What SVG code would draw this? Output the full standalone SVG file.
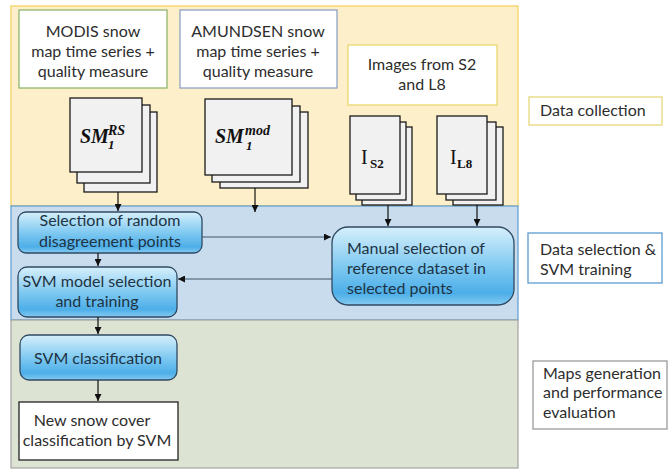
<svg xmlns="http://www.w3.org/2000/svg" width="668" height="470" viewBox="0 0 668 470">
<defs>
  <linearGradient id="blueGrad" x1="0" y1="0" x2="0" y2="1">
    <stop offset="0" stop-color="#d6effb"/>
    <stop offset="0.55" stop-color="#78c6f0"/>
    <stop offset="0.85" stop-color="#4daee8"/>
    <stop offset="1" stop-color="#84cbf1"/>
  </linearGradient>
  <marker id="arr" viewBox="0 0 10 10" refX="10" refY="5" markerWidth="7" markerHeight="7" orient="auto" markerUnits="userSpaceOnUse">
    <path d="M0,0 L10,5 L0,10 z" fill="#111"/>
  </marker>
</defs>
<style>
  .txt { font-family: Lato, "Liberation Sans", sans-serif; font-size: 16px; fill: #2d2d2d; }
  .ctr { text-anchor: middle; }
  .lbl { font-family: Lato, "Liberation Sans", sans-serif; font-size: 16px; fill: #2d2d2d; }
  .flow { fill: url(#blueGrad); stroke: #2f4a63; stroke-width: 1.3; }
  .flowtxt { font-family: Lato, "Liberation Sans", sans-serif; font-size: 16px; fill: #1e3344; }
  .sheet { fill: #f1f1f1; stroke: #1a1a1a; stroke-width: 1.3; }
  .math { font-family: "Liberation Serif", "DejaVu Serif", serif; font-weight: bold; font-style: italic; fill: #111; }
  .roman { font-family: "Liberation Serif", "DejaVu Serif", serif; fill: #111; }
  .conn { stroke: #111; stroke-width: 1.2; fill: none; marker-end: url(#arr); }
  .connl { stroke: #3f5366; stroke-width: 1.2; fill: none; marker-end: url(#arr); }
</style>

<!-- panels -->
<g id="panel-collection">
  <rect x="11" y="6" width="507" height="200" fill="#fcefc9" stroke="#f3d774" stroke-width="1.5"/>
</g>
<g id="panel-selection">
  <rect x="11" y="206" width="507" height="114" fill="#c8dcee" stroke="#5d9bd0" stroke-width="1.2"/>
</g>
<g id="panel-maps">
  <rect x="11" y="320" width="507" height="148" fill="#dde3d3" stroke="#a3a3a3" stroke-width="1.2"/>
</g>

<!-- source boxes -->
<g id="modis">
  <rect x="19" y="10" width="148" height="78" fill="#ffffff" stroke="#93b56e" stroke-width="1.3"/>
  <text class="txt ctr" x="93" y="37">MODIS snow</text>
  <text class="txt ctr" x="93" y="57">map time series +</text>
  <text class="txt ctr" x="93" y="77">quality measure</text>
</g>
<g id="amundsen">
  <rect x="180" y="10" width="157" height="78" fill="#ffffff" stroke="#8fa3c6" stroke-width="1.3"/>
  <text class="txt ctr" x="258" y="37">AMUNDSEN snow</text>
  <text class="txt ctr" x="258" y="57">map time series +</text>
  <text class="txt ctr" x="258" y="77">quality measure</text>
</g>
<g id="images">
  <rect x="348" y="45" width="149" height="60" fill="#ffffff" stroke="#ead86e" stroke-width="1.3"/>
  <text class="txt ctr" x="422" y="70">Images from S2</text>
  <text class="txt ctr" x="422" y="90">and L8</text>
</g>

<!-- stacks -->
<g id="sm-rs">
  <rect class="sheet" x="84" y="112" width="73" height="80"/>
  <rect class="sheet" x="77" y="105" width="73" height="78"/>
  <rect class="sheet" x="70" y="98" width="72" height="74"/>
  <text class="math" x="80" y="143" font-size="20">SM</text>
  <text class="math" x="108" y="135" font-size="14">RS</text>
  <text class="math" x="108" y="149" font-size="13">1</text>
</g>
<g id="sm-mod">
  <rect class="sheet" x="220" y="112" width="88" height="76"/>
  <rect class="sheet" x="212" y="106" width="88" height="76"/>
  <rect class="sheet" x="205" y="99" width="87" height="76"/>
  <text class="math" x="215" y="143" font-size="20">SM</text>
  <text class="math" x="245" y="135" font-size="14">mod</text>
  <text class="math" x="246" y="150" font-size="13">1</text>
</g>
<g id="i-s2">
  <rect class="sheet" x="362" y="127" width="50" height="78"/>
  <rect class="sheet" x="356" y="122" width="50" height="78"/>
  <rect class="sheet" x="350" y="116" width="50" height="78"/>
  <text class="roman" x="361" y="164" font-size="20">I</text>
  <text class="roman" x="370" y="168" font-size="13" font-weight="bold">S2</text>
</g>
<g id="i-l8">
  <rect class="sheet" x="453" y="127" width="50" height="78"/>
  <rect class="sheet" x="446" y="122" width="50" height="78"/>
  <rect class="sheet" x="437" y="116" width="50" height="78"/>
  <text class="roman" x="450" y="164" font-size="20">I</text>
  <text class="roman" x="457" y="168" font-size="13" font-weight="bold">L8</text>
</g>

<!-- flow boxes -->
<g id="select-random">
  <rect class="flow" x="18" y="212" width="184" height="41" rx="8"/>
  <text class="flowtxt ctr" x="110" y="226">Selection of random</text>
  <text class="flowtxt ctr" x="110" y="247">disagreement points</text>
</g>
<g id="svm-model">
  <rect class="flow" x="18" y="267" width="159" height="50" rx="9"/>
  <text class="flowtxt ctr" x="97" y="287">SVM model selection</text>
  <text class="flowtxt ctr" x="97" y="307">and training</text>
</g>
<g id="manual">
  <rect class="flow" x="332" y="227" width="182" height="78" rx="16"/>
  <text class="flowtxt" x="347" y="254">Manual selection of</text>
  <text class="flowtxt" x="347" y="274">reference dataset in</text>
  <text class="flowtxt" x="347" y="294">selected points</text>
</g>
<g id="svm-class">
  <rect class="flow" x="20" y="335" width="157" height="45" rx="9"/>
  <text class="flowtxt ctr" x="98" y="364">SVM classification</text>
</g>
<g id="new-map">
  <rect x="19" y="402" width="159" height="58" fill="#ffffff" stroke="#222" stroke-width="1.3"/>
  <text class="txt ctr" x="92" y="426">New snow cover</text>
  <text class="txt ctr" x="97" y="446">classification by SVM</text>
</g>

<!-- side labels -->
<g id="label-collection">
  <rect x="529" y="97" width="133" height="28" fill="#ffffff" stroke="#e6d77c" stroke-width="1.3"/>
  <text class="lbl" x="540" y="116" font-size="15">Data collection</text>
</g>
<g id="label-selection">
  <rect x="528" y="233" width="134" height="50" fill="#ffffff" stroke="#5d9bd0" stroke-width="1.3"/>
  <text class="lbl" x="540" y="255">Data selection &amp;</text>
  <text class="lbl" x="540" y="275">SVM training</text>
</g>
<g id="label-maps">
  <rect x="533" y="361" width="134" height="68" fill="#ffffff" stroke="#9a9a9a" stroke-width="1.3"/>
  <text class="lbl" x="543" y="379">Maps generation</text>
  <text class="lbl" x="543" y="398">and performance</text>
  <text class="lbl" x="543" y="418">evaluation</text>
</g>

<!-- connectors -->
<g id="connectors">
  <line class="conn" x1="118" y1="192" x2="118" y2="211"/>
  <line class="conn" x1="255" y1="188" x2="255" y2="212"/>
  <line class="conn" x1="388" y1="205" x2="388" y2="226"/>
  <line class="conn" x1="477" y1="205" x2="477" y2="226"/>
  <line class="connl" x1="202" y1="237" x2="331" y2="237"/>
  <line class="connl" x1="332" y1="279" x2="178" y2="279"/>
  <line class="conn" x1="98" y1="253" x2="98" y2="266"/>
  <line class="conn" x1="98" y1="317" x2="98" y2="334"/>
  <line class="conn" x1="98" y1="380" x2="98" y2="401"/>
</g>
</svg>
